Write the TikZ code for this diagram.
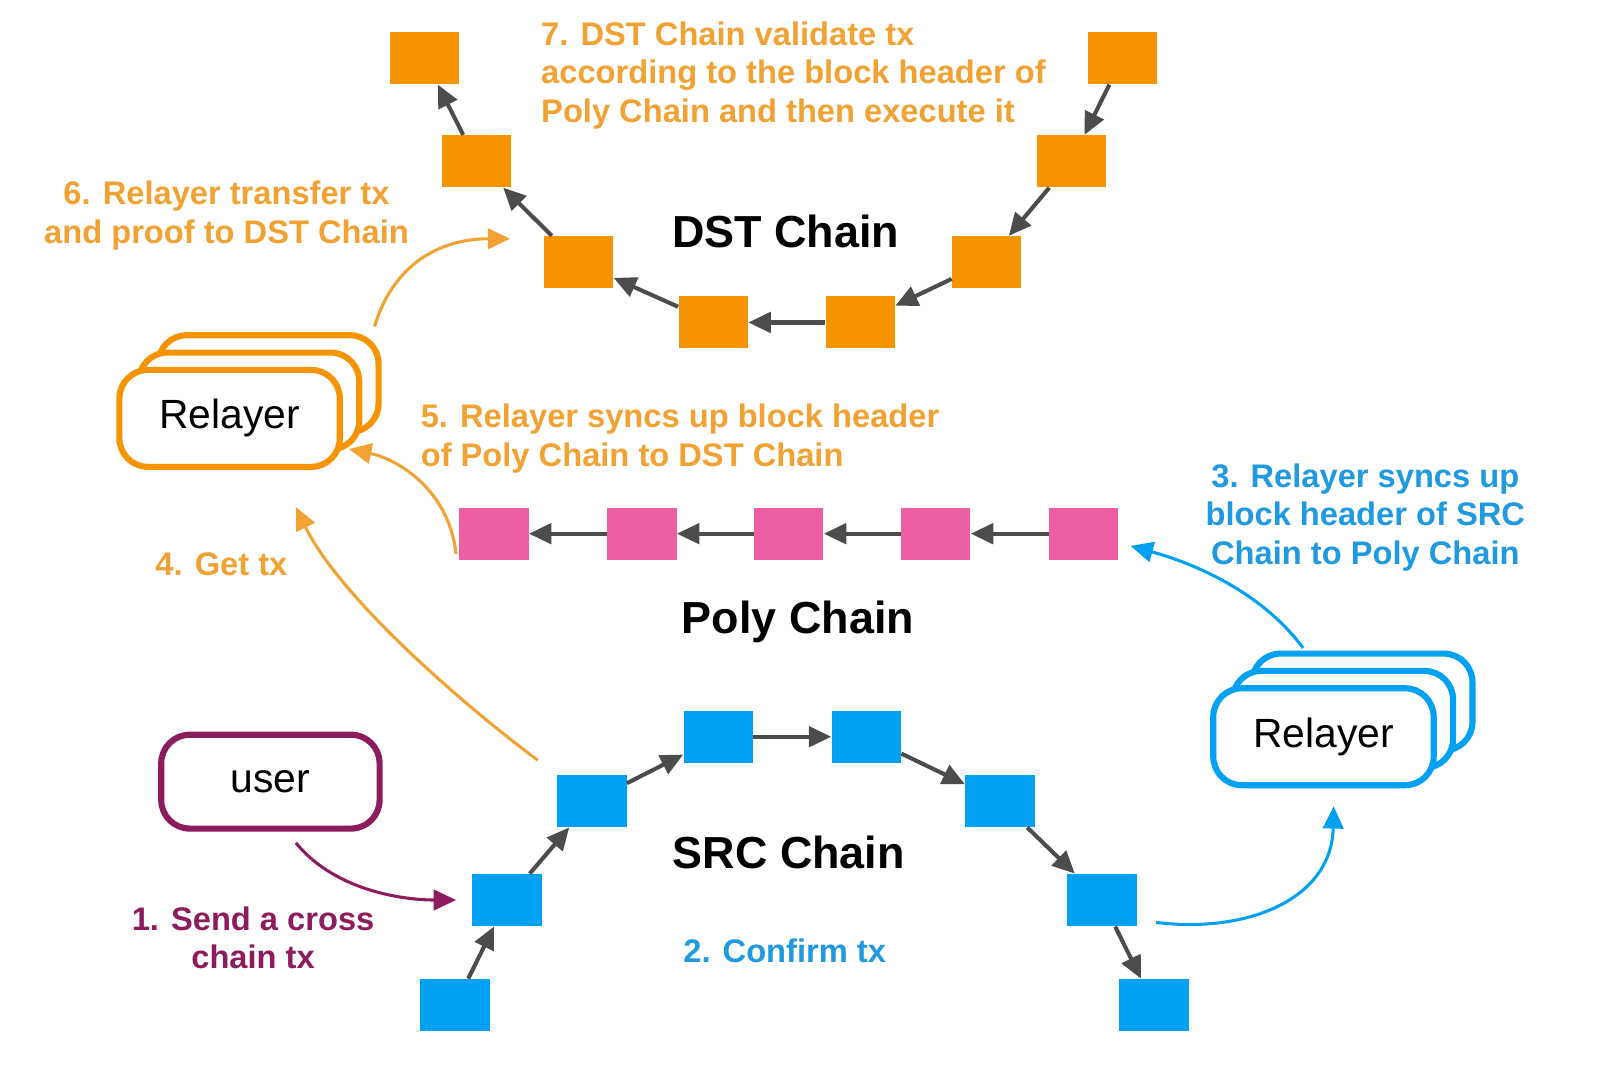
\documentclass[tikz,border=0pt]{standalone}
\usepackage{fontspec}
\setmainfont{Liberation Sans}
\usetikzlibrary{arrows.meta}

\newlength{\du}
\setlength{\du}{0.5pt}

\definecolor{dstorange}{rgb}{0.960000, 0.580000, 0.000000}
\definecolor{lblorange}{rgb}{0.950000, 0.630000, 0.200000}
\definecolor{polypink}{rgb}{0.930000, 0.370000, 0.640000}
\definecolor{srcblue}{rgb}{0.000000, 0.630000, 0.950000}
\definecolor{lblblue}{rgb}{0.120000, 0.600000, 0.880000}
\definecolor{userpurple}{rgb}{0.550000, 0.110000, 0.360000}
\definecolor{linkgray}{rgb}{0.300000, 0.300000, 0.300000}

\tikzset{
  block/.style={rectangle, minimum width=68\du, minimum height=51\du, inner sep=0pt},
  link/.style={draw=linkgray, line width=4\du, -{Triangle[length=11pt,width=10pt]}},
  flow/.style={line width=3\du, -{Triangle[length=11pt,width=10pt]}},
  actor/.style={rectangle, rounded corners=14pt, line width=6\du, fill=white,
    minimum width=216\du, minimum height=95\du, font=\fontsize{20}{24}\selectfont},
  lbl/.style={font=\bfseries\fontsize{16}{19}\selectfont, inner sep=0pt},
  chaintitle/.style={font=\bfseries\fontsize{22}{26}\selectfont, inner sep=0pt}
}

\begin{document}
\begin{tikzpicture}
\pgftransformxscale{1.000000}
\pgftransformyscale{-1.000000}
\useasboundingbox (0\du,0\du) rectangle (1568\du,1067\du);
% DST chain
\foreach \n/\x/\y in {1/416/57, 2/467/158, 3/567/257, 4/699/316, 5/843/316, 6/967/257, 7/1050/158, 8/1100/57}
  \node[block, fill=dstorange] (d\n) at (\x\du,\y\du) {};
\foreach \a/\b in {d8/d7, d7/d6, d6/d5, d5/d4, d4/d3, d3/d2, d2/d1}
  \draw[link] (\a) -- (\b);
\node[chaintitle] (dsttitle) at (770\du,227\du) {DST Chain};
% Poly chain
\foreach \n/\x in {1/484, 2/629, 3/773, 4/917, 5/1062}
  \node[block, fill=polypink] (p\n) at (\x\du,523\du) {};
\foreach \a/\b in {p5/p4, p4/p3, p3/p2, p2/p1}
  \draw[link] (\a) -- (\b);
\node[chaintitle] (polytitle) at (782\du,609\du) {Poly Chain};
% SRC chain
\foreach \n/\x/\y in {1/446/985, 2/497/882, 3/580/785, 4/704/722, 5/849/722, 6/980/785, 7/1080/882, 8/1131/985}
  \node[block, fill=srcblue] (s\n) at (\x\du,\y\du) {};
\foreach \a/\b in {s1/s2, s2/s3, s3/s4, s4/s5, s5/s6, s6/s7, s7/s8}
  \draw[link] (\a) -- (\b);
\node[chaintitle] (srctitle) at (773\du,835\du) {SRC Chain};
% relayers and user
\node[actor, draw=dstorange] (rl3) at (263\du,376\du) {};
\node[actor, draw=dstorange] (rl2) at (244\du,393\du) {};
\node[actor, draw=dstorange] (rl1) at (225\du,410\du) {Relayer};
\node[actor, draw=srcblue] (rr3) at (1335\du,688\du) {};
\node[actor, draw=srcblue] (rr2) at (1316\du,705\du) {};
\node[actor, draw=srcblue] (rr1) at (1297\du,722\du) {Relayer};
\node[actor, draw=userpurple, minimum width=214\du, minimum height=92\du] (user) at (265\du,766\du) {user};
% flow arrows
\coordinate (g1a) at (290\du,826\du);
\coordinate (g1b) at (447\du,882\du);
\draw[flow, draw=userpurple] (g1a) .. controls (330\du,875\du) and (400\du,882\du) .. (g1b);
\coordinate (g2a) at (1133\du,904\du);
\coordinate (g2b) at (1307\du,790\du);
\draw[flow, draw=srcblue] (g2a) .. controls (1225\du,915\du) and (1305\du,880\du) .. (g2b);
\coordinate (g3a) at (1277\du,635\du);
\coordinate (g3b) at (1108\du,535\du);
\draw[flow, draw=srcblue] (g3a) .. controls (1240\du,585\du) and (1180\du,555\du) .. (g3b);
\coordinate (g4a) at (527\du,745\du);
\coordinate (g4b) at (290\du,497\du);
\draw[flow, draw=lblorange] (g4a) .. controls (440\du,680\du) and (330\du,580\du) .. (g4b);
\coordinate (g5a) at (447\du,543\du);
\coordinate (g5b) at (342\du,440\du);
\draw[flow, draw=lblorange] (g5a) .. controls (440\du,480\du) and (390\du,450\du) .. (g5b);
\coordinate (g6a) at (367\du,320\du);
\coordinate (g6b) at (500\du,234\du);
\draw[flow, draw=lblorange] (g6a) .. controls (385\du,260\du) and (430\du,234\du) .. (g6b);
% labels
\node[lbl, text=userpurple, align=center] (l1) at (248\du,919\du) {1. Send a cross\\chain tx};
\node[lbl, text=lblblue] (l2) at (769\du,932\du) {2. Confirm tx};
\node[lbl, text=lblblue, align=center] (l3) at (1338\du,507\du) {3. Relayer syncs up\\block header of SRC\\Chain to Poly Chain};
\node[lbl, text=lblorange] (l4) at (217\du,553\du) {4. Get tx};
\node[lbl, text=lblorange, align=left, anchor=west] (l5) at (412\du,430\du) {5. Relayer syncs up block header\\of Poly Chain to DST Chain};
\node[lbl, text=lblorange, align=center] (l6) at (222\du,211\du) {6. Relayer transfer tx\\and proof to DST Chain};
\node[lbl, text=lblorange, align=left, anchor=west] (l7) at (530\du,74\du) {7. DST Chain validate tx\\according to the block header of\\Poly Chain and then execute it};
\end{tikzpicture}
\end{document}
